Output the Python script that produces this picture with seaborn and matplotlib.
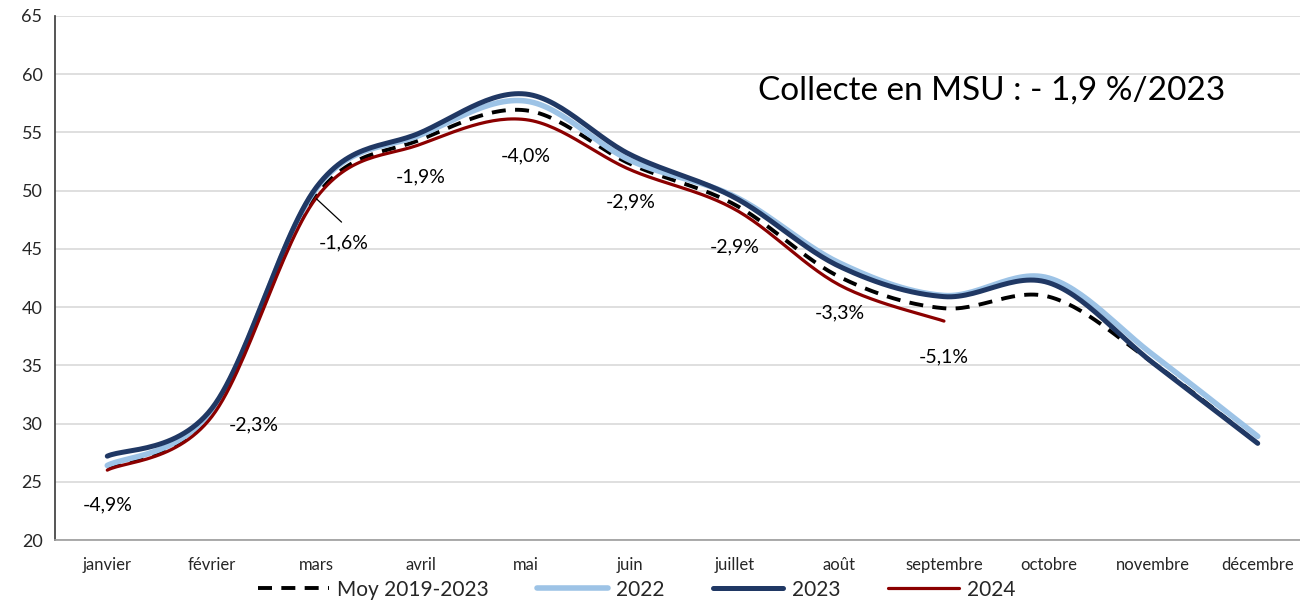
# Collecte en MSU : courbes mensuelles lissées 2022 / 2023 / 2024 et moyenne 2019-2023

import numpy as np
import pandas as pd
import seaborn as sns
import matplotlib.pyplot as plt

mois = ["janvier", "février", "mars", "avril", "mai", "juin", "juillet",
        "août", "septembre", "octobre", "novembre", "décembre"]
moy_2019_2023 = [26.2, 30.9, 49.6, 54.4, 56.9, 52.3, 48.8, 42.6, 39.9, 40.9, 35.2, 28.3]
v2022 = [26.4, 31.1, 50.2, 54.8, 57.7, 52.6, 49.5, 43.8, 41.0, 42.5, 35.9, 28.9]
v2023 = [27.2, 31.3, 50.3, 55.0, 58.3, 53.1, 49.4, 43.5, 40.9, 42.1, 35.2, 28.3]
v2024 = [26.0, 30.6, 49.4, 54.0, 56.1, 51.8, 48.4, 41.9, 38.8]
ecarts = ["-4,9%", "-2,3%", "-1,6%", "-1,9%", "-4,0%", "-2,9%", "-2,9%", "-3,3%", "-5,1%"]


def lisse(y, n=30):
    # courbe lissée façon Excel (Bezier / Catmull-Rom)
    y = np.asarray(y, dtype=float)
    x = np.arange(len(y), dtype=float)
    p = np.column_stack([x, y])
    p = np.vstack([p[0], p, p[-1]])
    pts = []
    t = np.linspace(0, 1, n)[:, None]
    for i in range(1, len(p) - 2):
        p0, p3 = p[i], p[i + 1]
        c1 = p0 + (p[i + 1] - p[i - 1]) / 6
        c2 = p3 - (p[i + 2] - p[i]) / 6
        seg = ((1 - t) ** 3) * p0 + 3 * ((1 - t) ** 2) * t * c1 + 3 * (1 - t) * t ** 2 * c2 + t ** 3 * p3
        pts.append(seg if i == 1 else seg[1:])
    pts = np.vstack(pts)
    return pd.DataFrame({"x": pts[:, 0], "y": pts[:, 1]})


sns.set_theme(style="white")
plt.rcParams["font.family"] = ["Lato", "DejaVu Sans"]

fig = plt.figure(figsize=(13, 6.06), dpi=100)
ax = fig.add_axes([0.0423, 0.1089, 0.9654, 0.8647])

series = [
    ("Moy 2019-2023", moy_2019_2023, "black", 2.8, (0, (3.6, 2.4))),
    ("2022", v2022, "#9DC3E6", 4.0, "-"),
    ("2023", v2023, "#203864", 3.6, "-"),
    ("2024", v2024, "#8B0000", 2.3, "-"),
]
for nom, vals, col, lw, ls in series:
    d = lisse(vals)
    sns.lineplot(data=d, x="x", y="y", sort=False, estimator=None, color=col,
                 linewidth=lw, linestyle=ls, label=nom, ax=ax, legend=False,
                 solid_capstyle="round")

ax.set_xlim(-0.5, 11.5)
ax.set_ylim(20, 65)
ax.set_yticks(range(20, 66, 5))
ax.set_xticks(range(12))
ax.set_xticklabels(mois, fontsize=12)
ax.set_xticks(np.arange(-0.5, 12, 1), minor=True)
ax.tick_params(axis="x", which="major", length=0, pad=12)
ax.tick_params(axis="x", which="minor", length=7, width=1, color="#808080", direction="out")
ax.tick_params(axis="y", length=5, width=1, color="#808080", direction="out", labelsize=13, pad=4)
ax.yaxis.grid(True, color="#D9D9D9", linewidth=1.2)
ax.set_axisbelow(True)
for s in ["top", "right"]:
    ax.spines[s].set_visible(False)
ax.spines["left"].set_color("#404040")
ax.spines["bottom"].set_color("#A0A0A0")
ax.set_xlabel("")
ax.set_ylabel("")

# écarts 2024 / 2023
pos = [(0, 23.0), (1.40, 29.9), (2.26, 45.5), (3.0, 51.2), (4.0, 53.0),
       (5.0, 49.0), (6.0, 45.2), (7.0, 39.5), (8.0, 35.7)]
for txt, (px, py) in zip(ecarts, pos):
    ax.text(px, py, txt, ha="center", va="center", fontsize=14, color="black")
ax.plot([2.0, 2.24], [49.3, 47.3], color="black", linewidth=0.9)

ax.text(8.46, 58.6, "Collecte en MSU : - 1,9 %/2023", ha="center", va="center",
        fontsize=24, color="black")

h, l = ax.get_legend_handles_labels()
fig.legend(h, l, loc="center", bbox_to_anchor=(0.49, 0.027), ncol=4, frameon=False,
           fontsize=15, handlelength=3.4, handletextpad=0.4, columnspacing=2.3,
           borderpad=0.1)

fig.savefig("out.png", dpi=100)
